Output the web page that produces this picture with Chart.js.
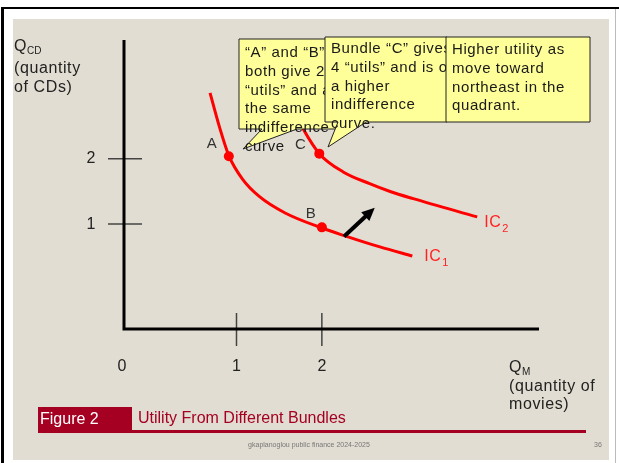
<!DOCTYPE html>
<html>
<head>
<meta charset="utf-8">
<script src="https://cdn.jsdelivr.net/npm/chart.js@4.4.0/dist/chart.umd.min.js"></script>
<style>
  html, body { margin: 0; padding: 0; background: #fff; }
  #wrap { width: 619px; height: 463px; position: relative; }
</style>
</head>
<body>
<div id="wrap"><canvas id="utilityChart" width="619" height="463"></canvas></div>
<script>
// Indifference curves: quantity of movies (x) vs quantity of CDs (y)
const ic1Movies = [0.69, 0.80, 0.91, 1.07, 1.27, 1.57, 2.00, 2.27, 2.68, 3.06];
const ic1Cds    = [3.01, 2.49, 2.05, 1.69, 1.42, 1.17, 0.94, 0.82, 0.65, 0.51];
const ic2Movies = [1.70, 1.78, 1.97, 2.25, 2.56, 2.80, 3.07, 3.82];
const ic2Cds    = [2.67, 2.46, 2.08, 1.80, 1.62, 1.50, 1.39, 1.11];

// Bundles A, B, C
const bundleNames  = ['A', 'B', 'C'];
const bundleMovies = [0.91, 2.00, 1.97];
const bundleCds    = [2.04, 0.95, 2.08];

// Arrow pointing northeast
const arrowFrom = [2.26, 0.81];
const arrowTo   = [2.62, 1.25];

// Tick labels
const xTickValues = [1, 2];
const yTickValues = [1, 2];
const originLabel = '0';
const curveNames = ['IC', 'IC'];
const curveSubs  = ['1', '2'];

// Callout texts
const calloutA = ['\u201CA\u201D and \u201CB\u201D', 'both give 2', '\u201Cutils\u201D and are on', 'the same', 'indifference', 'curve'];
const calloutC = ['Bundle \u201CC\u201D gives', '4 \u201Cutils\u201D and is on', 'a higher', 'indifference', 'curve.'];
const calloutNE = ['Higher utility as', 'move toward', 'northeast in the', 'quadrant.'];

const FONT = '"Liberation Sans", Arial, sans-serif';
const RED = '#ff0000';

function toXY(xs, ys) {
  return xs.map((x, i) => ({ x: x, y: ys[i] }));
}

function setFont(ctx, size, spacing) {
  ctx.font = size + 'px ' + FONT;
  ctx.letterSpacing = (spacing || 0) + 'px';
}

function drawCallout(ctx, box, tail, lines, tx, ty) {
  ctx.save();
  ctx.beginPath();
  ctx.moveTo(box.l, box.t);
  ctx.lineTo(box.r, box.t);
  ctx.lineTo(box.r, box.b);
  if (tail) {
    ctx.lineTo(tail.r, box.b);
    ctx.lineTo(tail.x, tail.y);
    ctx.lineTo(tail.l, box.b);
  }
  ctx.lineTo(box.l, box.b);
  ctx.closePath();
  ctx.fillStyle = '#ffff99';
  ctx.fill();
  ctx.strokeStyle = '#222';
  ctx.lineWidth = 1;
  ctx.stroke();
  setFont(ctx, 15, 0.6);
  ctx.fillStyle = '#1a1a1a';
  ctx.textAlign = 'left';
  ctx.textBaseline = 'middle';
  lines.forEach((s, i) => ctx.fillText(s, tx, ty + i * 18.7));
  ctx.restore();
}

const slidePlugin = {
  id: 'slide',
  beforeDraw(chart) {
    const ctx = chart.ctx;
    const xs = chart.scales.x, ys = chart.scales.y;
    const area = chart.chartArea;
    ctx.save();
    ctx.fillStyle = '#fff';
    ctx.fillRect(0, 0, chart.width, chart.height);
    ctx.fillStyle = '#e2ddd2';
    ctx.fillRect(13, 19, 596, 441);
    ctx.fillStyle = '#000';
    ctx.fillRect(1, 7, 3, 456);
    ctx.fillRect(1, 7, 618, 2);
    ctx.fillStyle = '#bbb';
    ctx.fillRect(615, 9, 1, 454);

    // tick marks
    ctx.strokeStyle = '#444';
    ctx.lineWidth = 1.5;
    yTickValues.forEach(v => {
      const py = ys.getPixelForValue(v);
      ctx.beginPath();
      ctx.moveTo(area.left - 16, py);
      ctx.lineTo(area.left + 18, py);
      ctx.stroke();
    });
    xTickValues.forEach(v => {
      const px = xs.getPixelForValue(v);
      ctx.beginPath();
      ctx.moveTo(px, area.bottom - 16);
      ctx.lineTo(px, area.bottom + 17);
      ctx.stroke();
    });

    // axes
    ctx.strokeStyle = '#000';
    ctx.lineWidth = 3;
    ctx.beginPath();
    ctx.moveTo(area.left, area.top);
    ctx.lineTo(area.left, area.bottom);
    ctx.lineTo(area.right, area.bottom);
    ctx.stroke();

    // tick labels
    ctx.fillStyle = '#222';
    setFont(ctx, 16, 0);
    ctx.textBaseline = 'middle';
    ctx.textAlign = 'center';
    yTickValues.forEach(v => ctx.fillText(String(v), area.left - 33, ys.getPixelForValue(v)));
    xTickValues.forEach(v => ctx.fillText(String(v), xs.getPixelForValue(v), area.bottom + 38));
    ctx.fillText(originLabel, area.left - 2, area.bottom + 38);

    // axis titles
    ctx.textAlign = 'left';
    setFont(ctx, 16, 0.6);
    ctx.fillText('Q', 14, 47);
    ctx.fillText('(quantity', 14, 69);
    ctx.fillText('of CDs)', 14, 88);
    ctx.fillText('Q', 509, 368);
    ctx.fillText('(quantity of', 509, 387);
    ctx.fillText('movies)', 509, 405);
    setFont(ctx, 10, 0);
    ctx.fillText('CD', 27, 51);
    ctx.fillText('M', 522, 372);
    ctx.restore();
  },
  afterDatasetsDraw(chart) {
    const ctx = chart.ctx;
    const xs = chart.scales.x, ys = chart.scales.y;
    ctx.save();
    // arrow
    const x0 = xs.getPixelForValue(arrowFrom[0]), y0 = ys.getPixelForValue(arrowFrom[1]);
    const x1 = xs.getPixelForValue(arrowTo[0]), y1 = ys.getPixelForValue(arrowTo[1]);
    const ang = Math.atan2(y1 - y0, x1 - x0);
    ctx.strokeStyle = '#000';
    ctx.fillStyle = '#000';
    ctx.lineWidth = 4;
    ctx.beginPath();
    ctx.moveTo(x0, y0);
    ctx.lineTo(x1 - 8 * Math.cos(ang), y1 - 8 * Math.sin(ang));
    ctx.stroke();
    ctx.beginPath();
    ctx.moveTo(x1, y1);
    ctx.lineTo(x1 - 13 * Math.cos(ang) + 6 * Math.sin(ang), y1 - 13 * Math.sin(ang) - 6 * Math.cos(ang));
    ctx.lineTo(x1 - 13 * Math.cos(ang) - 6 * Math.sin(ang), y1 - 13 * Math.sin(ang) + 6 * Math.cos(ang));
    ctx.closePath();
    ctx.fill();

    // bundle labels
    const offs = [[-17, -12], [-11, -14], [-19, -9]];
    setFont(ctx, 15, 0);
    ctx.fillStyle = '#333';
    ctx.textAlign = 'center';
    ctx.textBaseline = 'middle';
    bundleNames.forEach((n, i) => {
      ctx.fillText(n, xs.getPixelForValue(bundleMovies[i]) + offs[i][0], ys.getPixelForValue(bundleCds[i]) + offs[i][1]);
    });

    // curve labels
    const ends = [[ic1Movies[ic1Movies.length - 1], ic1Cds[ic1Cds.length - 1], 12, 1],
                  [ic2Movies[ic2Movies.length - 1], ic2Cds[ic2Cds.length - 1], 7, 6]];
    ctx.fillStyle = '#f22';
    ctx.textAlign = 'left';
    ends.forEach((e, i) => {
      const px = xs.getPixelForValue(e[0]) + e[2];
      const py = ys.getPixelForValue(e[1]) + e[3];
      setFont(ctx, 16, 0.5);
      ctx.fillText(curveNames[i], px, py);
      const w = ctx.measureText(curveNames[i]).width;
      setFont(ctx, 11, 0);
      ctx.fillText(curveSubs[i], px + w + 1, py + 6);
    });
    ctx.restore();
  },
  afterDraw(chart) {
    const ctx = chart.ctx;
    ctx.save();
    drawCallout(ctx, { l: 239, t: 39, r: 338, b: 129 }, { l: 262, r: 297, x: 243, y: 149 }, calloutA, 245, 53);
    drawCallout(ctx, { l: 325, t: 37, r: 447, b: 122 }, { l: 338, r: 366, x: 328, y: 147 }, calloutC, 331, 49);
    drawCallout(ctx, { l: 446, t: 37, r: 590, b: 122 }, null, calloutNE, 452, 50);

    // caption
    ctx.fillStyle = '#a50021';
    ctx.fillRect(38, 407, 94, 26);
    ctx.fillRect(132, 430, 454, 3);
    ctx.textBaseline = 'middle';
    ctx.textAlign = 'left';
    setFont(ctx, 16, 0);
    ctx.fillText('Utility From Different Bundles', 138, 419);
    ctx.fillStyle = '#fff';
    ctx.fillText('Figure 2', 40, 420);

    // footer
    setFont(ctx, 7, 0);
    ctx.fillStyle = '#777';
    ctx.textAlign = 'center';
    ctx.fillText('gkaplanoglou public finance 2024-2025', 309, 445);
    ctx.textAlign = 'left';
    ctx.fillText('36', 594, 445);
    ctx.restore();
  }
};

new Chart(document.getElementById('utilityChart').getContext('2d'), {
  type: 'scatter',
  data: {
    datasets: [
      {
        label: 'IC1',
        data: toXY(ic1Movies, ic1Cds),
        showLine: true,
        borderColor: RED,
        borderWidth: 3,
        pointRadius: 0,
        cubicInterpolationMode: 'monotone'
      },
      {
        label: 'IC2',
        data: toXY(ic2Movies, ic2Cds),
        showLine: true,
        borderColor: RED,
        borderWidth: 3,
        pointRadius: 0,
        cubicInterpolationMode: 'monotone'
      },
      {
        label: 'Bundles',
        data: toXY(bundleMovies, bundleCds),
        showLine: false,
        pointRadius: 5,
        pointBackgroundColor: RED,
        pointBorderWidth: 0
      }
    ]
  },
  options: {
    responsive: false,
    animation: false,
    devicePixelRatio: 1,
    events: [],
    layout: { padding: { left: 124, right: 80, top: 40, bottom: 134 } },
    scales: {
      x: { type: 'linear', min: -0.318, max: 4.544, display: false },
      y: { type: 'linear', min: -0.608, max: 3.822, display: false }
    },
    plugins: {
      legend: { display: false },
      tooltip: { enabled: false }
    }
  },
  plugins: [slidePlugin]
});
</script>
</body>
</html>
